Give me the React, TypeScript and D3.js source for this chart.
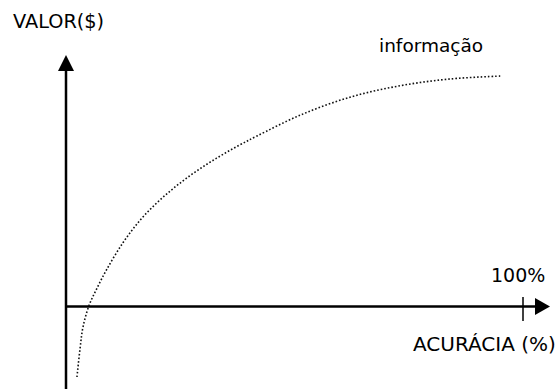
import React from "react";
import * as d3 from "d3";

const accuracy = [2.4, 3.1, 3.7, 5.0, 6.8, 9.0, 12.5, 16.2, 19.9, 23.4, 27.1, 30.9, 34.4, 38.1, 41.8, 51.2, 62.1, 73.1, 84.0, 95.4];
const value = [-28.4, -16.6, -8.6, 0, 7.2, 14.9, 25.4, 34.3, 41.3, 46.9, 52.1, 56.8, 60.7, 64.5, 68.0, 76.3, 83.5, 88.1, 90.8, 92.0];
const yTitle = "VALOR($)";
const xTitle = "ACURÁCIA (%)";
const tickLabel = "100%";
const curveLabel = "informação";

const W = 560;
const H = 389;

export default function App() {
  const x = d3.scaleLinear().domain([0, 100]).range([66, 523]);
  const y = d3.scaleLinear().domain([0, 100]).range([306, 56]);
  const pts: [number, number][] = accuracy.map((a, i) => [a, value[i]]);
  const line = d3
    .line<[number, number]>()
    .x((d) => x(d[0]))
    .y((d) => y(d[1]))
    .curve(d3.curveCatmullRom.alpha(0.5));

  const x0 = x(0);
  const y0 = y(0);
  const font = "'DejaVu Sans', Verdana, sans-serif";

  return (
    <svg
      width={W}
      height={H}
      style={{ position: "absolute", left: 0, top: 0, background: "#fff" }}
    >
      {/* Y axis */}
      <line x1={x0} x2={x0} y1={H} y2={70} stroke="#000" strokeWidth={2.5} />
      <path d={`M${x0},55 L${x0 - 8},71 L${x0 + 8},71 Z`} fill="#000" />
      {/* X axis */}
      <line x1={x0} x2={536} y1={y0 + 0.5} y2={y0 + 0.5} stroke="#000" strokeWidth={2.5} />
      <path d={`M550,${y0 + 0.5} L535,${y0 - 8} L535,${y0 + 9} Z`} fill="#000" />
      {/* 100% tick */}
      <line x1={x(100)} x2={x(100)} y1={297} y2={321} stroke="#000" strokeWidth={1.5} />
      {/* curve */}
      <path
        d={line(pts) || ""}
        fill="none"
        stroke="#111"
        strokeWidth={1.6}
        strokeDasharray="1.6 2"
      />
      <text x={13} y={27.5} fontFamily={font} fontSize={19.3} fill="#000">
        {yTitle}
      </text>
      <text x={379} y={52} fontFamily={font} fontSize={18.5} fill="#000">
        {curveLabel}
      </text>
      <text x={491} y={282} fontFamily={font} fontSize={19} fill="#000">
        {tickLabel}
      </text>
      <text x={413} y={351} fontFamily={font} fontSize={20} fill="#000">
        {xTitle}
      </text>
    </svg>
  );
}
